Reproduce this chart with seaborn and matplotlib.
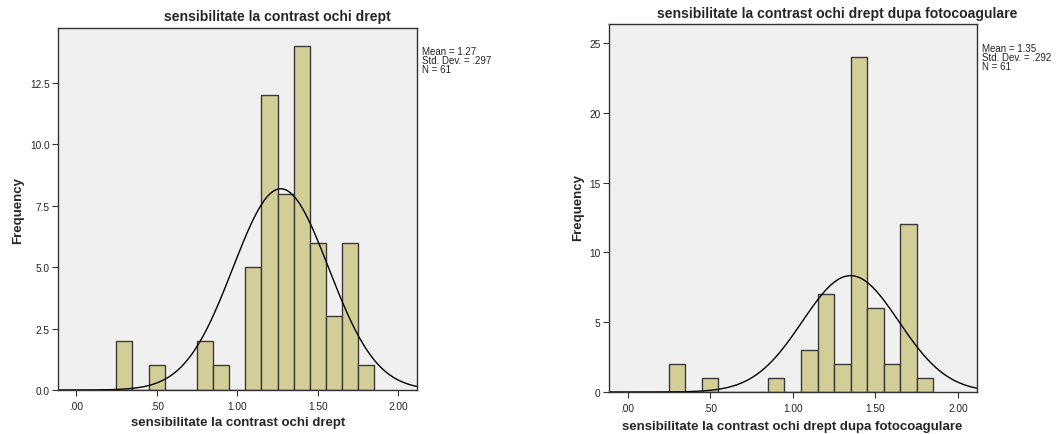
import numpy as np
import pandas as pd
import matplotlib
matplotlib.use("Agg")
import matplotlib.pyplot as plt
import seaborn as sns

# ---- data ----
left_centers = [0.3, 0.5, 0.8, 0.9, 1.1, 1.2, 1.3, 1.4, 1.5, 1.6, 1.7, 1.8]
left_counts = [2, 1, 2, 1, 5, 12, 8, 14, 6, 3, 6, 1]
left_mean, left_sd, left_n = 1.27, 0.297, 61

right_centers = [0.3, 0.5, 0.9, 1.1, 1.2, 1.3, 1.4, 1.5, 1.6, 1.7, 1.8]
right_counts = [2, 1, 1, 3, 7, 2, 24, 6, 2, 12, 1]
right_mean, right_sd, right_n = 1.35, 0.292, 61

left_title = "sensibilitate la contrast ochi drept"
right_title = "sensibilitate la contrast ochi drept dupa fotocoagulare"
left_stats = "Mean = 1.27\nStd. Dev. = .297\nN = 61"
right_stats = "Mean = 1.35\nStd. Dev. = .292\nN = 61"
x_ticks = [0.0, 0.5, 1.0, 1.5, 2.0]
x_ticklabels = [".00", ".50", "1.00", "1.50", "2.00"]
left_yticks = [0.0, 2.5, 5.0, 7.5, 10.0, 12.5]
left_yticklabels = ["0.0", "2.5", "5.0", "7.5", "10.0", "12.5"]
right_yticks = [0, 5, 10, 15, 20, 25]
right_yticklabels = ["0", "5", "10", "15", "20", "25"]

sns.set_theme(style="white")
plt.rcParams['font.family'] = ['Liberation Sans', 'DejaVu Sans']

W, H = 1061, 435
fig = plt.figure(figsize=(W / 100, H / 100), dpi=100)

BAR = "#d3ce97"
BG = "#f0f0f0"
EDGE = "#3a3a3a"
binwidth = 0.1
edges = [round(0.25 + i * binwidth, 2) for i in range(17)]


def panel(rect, centers, counts, mean, sd, n, ylim, yticks, yticklabels):
    ax = fig.add_axes(rect)
    ax.set_facecolor(BG)
    df = pd.DataFrame({"x": centers, "w": counts})
    sns.histplot(data=df, x="x", weights="w", bins=edges, ax=ax,
                 color=BAR, alpha=1, edgecolor=EDGE, linewidth=1.0)
    xs = np.linspace(-0.2, 2.2, 400)
    ys = n * binwidth * np.exp(-0.5 * ((xs - mean) / sd) ** 2) / (sd * np.sqrt(2 * np.pi))
    sns.lineplot(x=xs, y=ys, ax=ax, color="black", linewidth=1.0)
    ax.set_xlim(-0.112, 2.115)
    ax.set_ylim(*ylim)
    ax.set_xticks(x_ticks)
    ax.set_xticklabels(x_ticklabels)
    ax.set_yticks(yticks)
    ax.set_yticklabels(yticklabels)
    ax.tick_params(axis="both", direction="out", length=4, width=0.8,
                   color="#333333", labelsize=7.3, labelcolor="#222222", pad=2,
                   bottom=True, left=True)
    ax.tick_params(axis="x", pad=4)
    for s in ax.spines.values():
        s.set_color("#333333")
        s.set_linewidth(1.0)
    ax.set_xlabel("")
    ax.set_ylabel("")
    return ax


panel([58 / W, (H - 391) / H, 359 / W, 362 / H], left_centers, left_counts,
      left_mean, left_sd, left_n, (0, 14.74), left_yticks, left_yticklabels)
panel([609 / W, (H - 393) / H, 368 / W, 368 / H], right_centers, right_counts,
      right_mean, right_sd, right_n, (0, 26.36), right_yticks, right_yticklabels)

# titles
fig.text(277 / W, 1 - 17 / H, left_title, ha="center", va="center",
         fontsize=10.1, fontweight="bold")
fig.text(837 / W, 1 - 14 / H, right_title, ha="center", va="center",
         fontsize=10.1, fontweight="bold")
# axis labels
fig.text(238 / W, 1 - 423 / H, left_title, ha="center", va="center",
         fontsize=9.5, fontweight="bold")
fig.text(792 / W, 1 - 427 / H, right_title, ha="center", va="center",
         fontsize=9.5, fontweight="bold")
fig.text(18 / W, 1 - 210 / H, "Frequency", ha="center", va="center",
         rotation=90, fontsize=9.5, fontweight="bold")
fig.text(578 / W, 1 - 208 / H, "Frequency", ha="center", va="center",
         rotation=90, fontsize=9.5, fontweight="bold")
# stats
fig.text(422 / W, 1 - 47 / H, left_stats, ha="left", va="top",
         fontsize=7, linespacing=0.85, color="#222222")
fig.text(982 / W, 1 - 44 / H, right_stats, ha="left", va="top",
         fontsize=7, linespacing=0.85, color="#222222")

fig.savefig("out.png", dpi=100, facecolor="white")
